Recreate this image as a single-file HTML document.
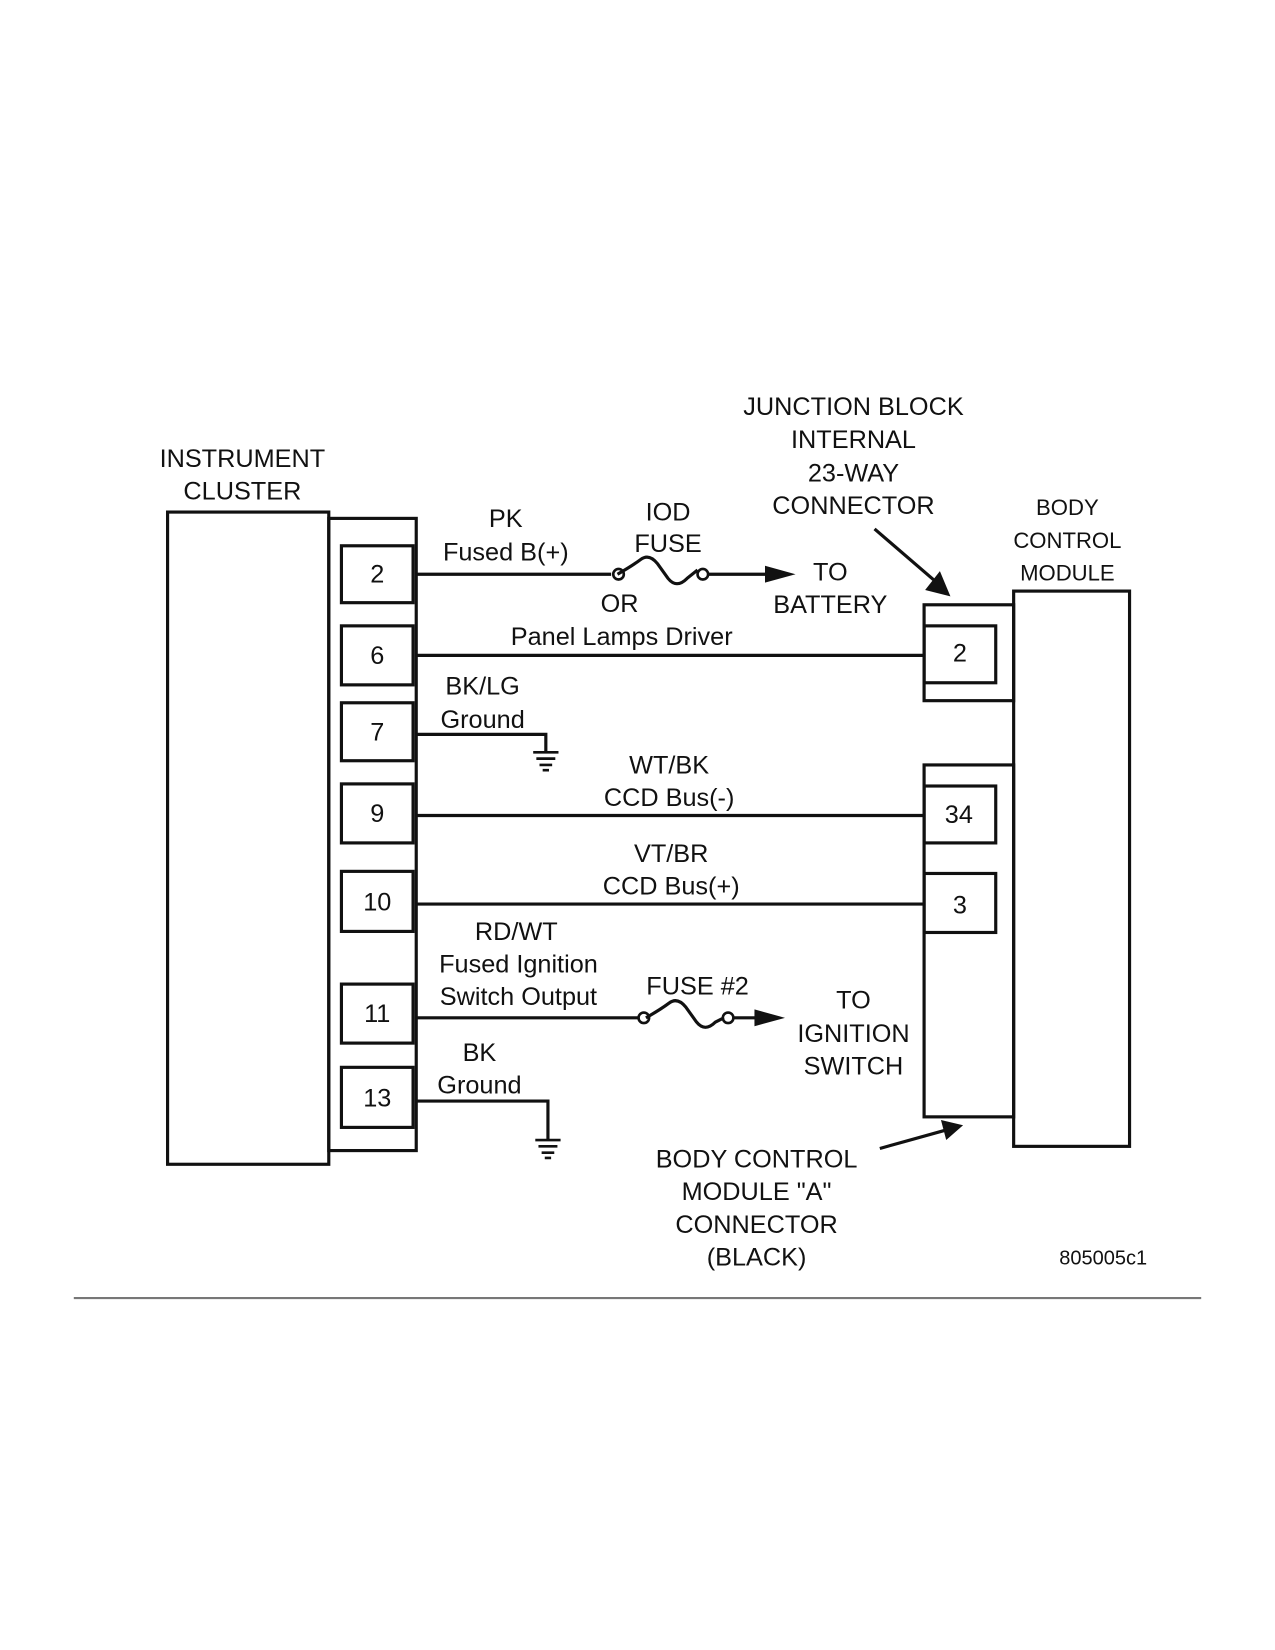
<!DOCTYPE html>
<html><head><style>html,body{margin:0;padding:0;background:#fff}svg{display:block}</style></head>
<body>
<svg width="1275" height="1650" viewBox="0 0 1210 1566" xmlns="http://www.w3.org/2000/svg" font-family="Liberation Sans, Arial, sans-serif" font-size="24" fill="none" stroke="#111" stroke-width="3">
<rect x="0" y="0" width="1210" height="1566" fill="#fff" stroke="none"/>
<!-- instrument cluster -->
<rect x="159" y="486" width="153" height="619"/>
<rect x="312" y="492" width="83" height="600"/>
<g>
<rect x="324" y="518" width="68" height="54"/>
<rect x="324" y="594" width="68" height="56"/>
<rect x="324" y="667" width="68" height="55"/>
<rect x="324" y="744" width="68" height="56"/>
<rect x="324" y="827" width="68" height="57"/>
<rect x="324" y="934" width="68" height="56"/>
<rect x="324" y="1013" width="68" height="57"/>
</g>
<!-- BCM -->
<rect x="962" y="561" width="110" height="527"/>
<rect x="877" y="574" width="85" height="91"/>
<rect x="877" y="594" width="68" height="54"/>
<rect x="877" y="726" width="85" height="334"/>
<rect x="877" y="746" width="68" height="54"/>
<rect x="877" y="829" width="68" height="56"/>
<!-- wires -->
<path d="M395 545H580M586 545q14-8 22-14 8-6 16 4l10 14q8 10 18 0l10-8M672 545H728"/>
<circle cx="587" cy="545" r="5" stroke-width="2.5"/>
<circle cx="667" cy="545" r="5" stroke-width="2.5"/>
<polygon points="726,537 755,545 726,553" fill="#111" stroke="none"/>
<path d="M395 622H877"/>
<path d="M395 697H518V714"/>
<path d="M506 714h24M509 720h18M512 726h12M515 731h6" stroke-width="2.5"/>
<path d="M395 774H877"/>
<path d="M395 858H877"/>
<path d="M395 966H607M613 966q14-8 22-14 8-6 16 4l10 14q8 10 18 0l8-4M696 966H720"/>
<circle cx="611" cy="966" r="5" stroke-width="2.5"/>
<circle cx="691" cy="966" r="5" stroke-width="2.5"/>
<polygon points="716,958 745,966 716,974" fill="#111" stroke="none"/>
<path d="M395 1045H520V1082"/>
<path d="M508 1082h24M511 1088h18M514 1094h12M517 1099h6" stroke-width="2.5"/>
<!-- callout arrows -->
<path d="M830 502L888 552"/>
<polygon points="878,560 902,566 892,542" fill="#111" stroke="none"/>
<path d="M835 1090L896 1073"/>
<polygon points="893,1063 914,1068 898,1082" fill="#111" stroke="none"/>
<!-- bottom line -->
<path d="M70 1232H1140" stroke="#777" stroke-width="2"/>
<g fill="#111" stroke="none" text-anchor="middle">
<text x="230" y="443">INSTRUMENT</text><text x="230" y="474">CLUSTER</text>
<text x="358" y="553">2</text><text x="358" y="630">6</text><text x="358" y="703">7</text>
<text x="358" y="780">9</text><text x="358" y="864">10</text><text x="358" y="970">11</text><text x="358" y="1050">13</text>
<text x="480" y="500">PK</text><text x="480" y="532">Fused B(+)</text>
<text x="634" y="494">IOD</text><text x="634" y="524">FUSE</text>
<text x="588" y="581">OR</text><text x="590" y="612">Panel Lamps Driver</text>
<text x="788" y="551">TO</text><text x="788" y="582">BATTERY</text>
<text x="458" y="659">BK/LG</text><text x="458" y="691">Ground</text>
<text x="635" y="734">WT/BK</text><text x="635" y="765">CCD Bus(-)</text>
<text x="637" y="818">VT/BR</text><text x="637" y="849">CCD Bus(+)</text>
<text x="490" y="892">RD/WT</text><text x="492" y="923">Fused Ignition</text><text x="492" y="954">Switch Output</text>
<text x="662" y="944">FUSE #2</text>
<text x="810" y="957">TO</text><text x="810" y="989">IGNITION</text><text x="810" y="1020">SWITCH</text>
<text x="455" y="1007">BK</text><text x="455" y="1038">Ground</text>
<text x="810" y="394">JUNCTION BLOCK</text><text x="810" y="425">INTERNAL</text><text x="810" y="457">23-WAY</text><text x="810" y="488">CONNECTOR</text>
<text x="1013" y="489" font-size="21">BODY</text><text x="1013" y="520" font-size="21">CONTROL</text><text x="1013" y="551" font-size="21">MODULE</text>
<text x="911" y="628">2</text><text x="910" y="781">34</text><text x="911" y="867">3</text>
<text x="718" y="1108">BODY CONTROL</text><text x="718" y="1139">MODULE "A"</text><text x="718" y="1170">CONNECTOR</text><text x="718" y="1201">(BLACK)</text>
<text x="1047" y="1200" font-size="19">805005c1</text>
</g>
</svg>
</body></html>
